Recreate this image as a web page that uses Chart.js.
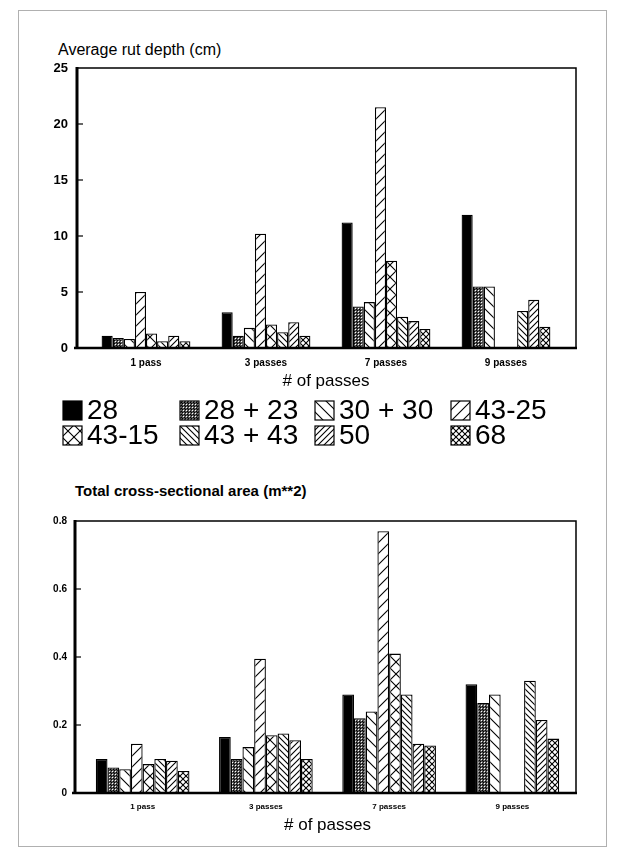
<!DOCTYPE html>
<html>
<head>
<meta charset="utf-8">
<script src="https://cdn.jsdelivr.net/npm/chart.js@4"></script>
<style>
  body { margin: 0; background: #fff; width: 622px; height: 855px; position: relative; overflow: hidden; font-family: "Liberation Sans", Arial, sans-serif; }
  #frame { position: absolute; left: 18px; top: 10px; width: 587px; height: 835px; border: 1px solid #b0b0b0; }
  .title { position: absolute; font-size: 16px; color: #000; white-space: nowrap; }
  canvas.chart { position: absolute; left: 0; }
  .lg { position: absolute; font-size: 28px; line-height: 28px; white-space: nowrap; display: flex; align-items: center; }
  .lg canvas { margin-right: 4px; }
</style>
</head>
<body>
<div id="frame"></div>
<div class="title" style="left:58px; top:41px;">Average rut depth (cm)</div>
<div class="title" style="left:75px; top:482px; font-size:15px; font-weight:bold;">Total cross-sectional area (m**2)</div>
<canvas id="rut" class="chart" style="top:55px;" width="622" height="345"></canvas>
<div id="legend"></div>
<canvas id="area" class="chart" style="top:470px;" width="622" height="375"></canvas>
<script>
// categories
let passes = ["1 pass", "3 passes", "7 passes", "9 passes"];
// series (tire / load configurations)
let series = ["28", "28+23", "30+30", "43-25", "43-15", "43+43", "50", "68"];
let hatches = ["solid", "dots", "back", "fwd", "cross", "back2", "fwd2", "cross2"];

// average rut depth (cm), one array per series, values for 1/3/7/9 passes
let rut28 = [1.1, 3.2, 11.2, 11.9];
let rut28_23 = [0.9, 1.1, 3.7, 5.5];
let rut30_30 = [0.8, 1.8, 4.1, 5.5];
let rut43_25 = [5.0, 10.2, 21.5, 0];
let rut43_15 = [1.3, 2.1, 7.8, 0];
let rut43_43 = [0.6, 1.4, 2.8, 3.3];
let rut50 = [1.1, 2.3, 2.4, 4.3];
let rut68 = [0.6, 1.1, 1.7, 1.9];

// total cross-sectional area (m**2)
let area28 = [0.10, 0.165, 0.29, 0.32];
let area28_23 = [0.075, 0.10, 0.22, 0.265];
let area30_30 = [0.07, 0.135, 0.24, 0.29];
let area43_25 = [0.145, 0.395, 0.77, 0];
let area43_15 = [0.085, 0.17, 0.41, 0];
let area43_43 = [0.10, 0.175, 0.29, 0.33];
let area50 = [0.095, 0.155, 0.145, 0.215];
let area68 = [0.065, 0.10, 0.14, 0.16];

let rutTicks = [0, 5, 10, 15, 20, 25];
let areaTicks = [0, 0.2, 0.4, 0.6, 0.8];

let rutData = [rut28, rut28_23, rut30_30, rut43_25, rut43_15, rut43_43, rut50, rut68];
let areaData = [area28, area28_23, area30_30, area43_25, area43_15, area43_43, area50, area68];

// build a fill pattern for a hatch kind
function makePattern(kind) {
  if (kind === "solid") return "#000";
  let c = document.createElement("canvas");
  let n = { dots: 3, back: 11, fwd: 11, cross: 12, back2: 6, fwd2: 6, cross2: 6 }[kind];
  c.width = n; c.height = n;
  let g = c.getContext("2d");
  g.fillStyle = "#fff";
  g.fillRect(0, 0, n, n);
  g.strokeStyle = "#000";
  g.lineWidth = 1.1;
  if (kind === "dots") {
    g.fillStyle = "#555";
    g.fillRect(0, 0, n, n);
    g.fillStyle = "#fff";
    g.fillRect(1, 1, 1, 1);
    g.fillStyle = "#000";
    g.fillRect(0, 0, 1, 1);
    g.fillRect(2, 2, 1, 1);
  }
  let back = function () {
    g.beginPath();
    g.moveTo(-1, -1); g.lineTo(n + 1, n + 1);
    g.moveTo(n - 1, -1); g.lineTo(n + 1, 1);
    g.moveTo(-1, n - 1); g.lineTo(1, n + 1);
    g.stroke();
  };
  let fwd = function () {
    g.beginPath();
    g.moveTo(-1, n + 1); g.lineTo(n + 1, -1);
    g.moveTo(-1, 1); g.lineTo(1, -1);
    g.moveTo(n - 1, n + 1); g.lineTo(n + 1, n - 1);
    g.stroke();
  };
  if (kind === "back" || kind === "back2") back();
  if (kind === "fwd" || kind === "fwd2") fwd();
  if (kind === "cross" || kind === "cross2") { back(); fwd(); }
  return document.createElement("canvas").getContext("2d").createPattern(c, "repeat");
}

let fills = hatches.map(makePattern);

// legend, 4 columns x 2 rows
let legendCols = [62, 179, 314, 450];
let legendRows = [396, 421];
let legendDiv = document.getElementById("legend");
for (let i = 0; i < series.length; i++) {
  let item = document.createElement("div");
  item.className = "lg";
  item.style.left = legendCols[i % 4] + "px";
  item.style.top = legendRows[Math.floor(i / 4)] + "px";
  let box = document.createElement("canvas");
  box.width = 21; box.height = 21;
  let bx = box.getContext("2d");
  bx.fillStyle = fills[i];
  bx.fillRect(1, 1, 19, 19);
  bx.strokeStyle = "#000";
  bx.lineWidth = 1.2;
  bx.strokeRect(1, 1, 19, 19);
  item.appendChild(box);
  let span = document.createElement("span");
  span.textContent = series[i].replace("+", " + ");
  item.appendChild(span);
  legendDiv.appendChild(item);
}

// box around the plot area (a bit wider than the bar area) and small inward ticks
const framePlugin = {
  id: "frame",
  afterDraw(chart) {
    let ctx = chart.ctx;
    let a = chart.chartArea;
    let ext = chart.options.plugins.frame;
    let L = a.left - ext.left, R = a.right + ext.right;
    let y = chart.scales.y;
    ctx.save();
    ctx.strokeStyle = "#000";
    ctx.lineWidth = 1.5;
    ctx.beginPath();
    ctx.moveTo(L, a.top); ctx.lineTo(R, a.top); ctx.lineTo(R, a.bottom);
    ctx.stroke();
    ctx.lineWidth = 2.5;
    ctx.beginPath();
    ctx.moveTo(L - 3, a.bottom); ctx.lineTo(R + 1, a.bottom);
    ctx.stroke();
    ctx.lineWidth = 3;
    ctx.beginPath();
    ctx.moveTo(L, a.top - 1); ctx.lineTo(L, a.bottom + 1);
    ctx.stroke();
    ctx.lineWidth = 1.2;
    y.ticks.forEach(function (t) {
      let py = y.getPixelForValue(t.value);
      if (py > a.top + 2 && py < a.bottom - 2) {
        ctx.beginPath();
        ctx.moveTo(L, py); ctx.lineTo(L + 6, py);
        ctx.stroke();
      }
    });
    ctx.restore();
  },
};

function makeChart(id, values, ticks, opts) {
  let datasets = series.map(function (name, i) {
    return {
      label: name,
      data: values[i],
      backgroundColor: fills[i],
      borderColor: "#000",
      borderWidth: 1.3,
      borderSkipped: "bottom",
    };
  });
  return new Chart(document.getElementById(id), {
    type: "bar",
    data: { labels: passes, datasets: datasets },
    plugins: [framePlugin],
    options: {
      responsive: false,
      animation: false,
      events: [],
      layout: { padding: { left: 0, right: opts.right, top: opts.top, bottom: 0 } },
      datasets: { bar: { categoryPercentage: opts.cat, barPercentage: 1 } },
      plugins: {
        legend: { display: false },
        tooltip: { enabled: false },
        frame: { left: opts.extL, right: opts.extR },
      },
      scales: {
        x: {
          grid: { display: false },
          border: { display: false },
          ticks: {
            color: "#000",
            padding: opts.xPad,
            font: { family: "Liberation Sans", size: opts.xSize, weight: "bold" },
          },
          title: {
            display: true,
            text: "# of passes",
            color: "#000",
            font: { family: "Liberation Sans", size: 17 },
            padding: { top: 0, bottom: opts.titlePad },
          },
          afterFit(scale) { scale.height = opts.xHeight; },
        },
        y: {
          min: ticks[0],
          max: ticks[ticks.length - 1],
          grid: { display: false, drawTicks: false },
          border: { display: false },
          afterBuildTicks(scale) { scale.ticks = ticks.map(function (v) { return { value: v }; }); },
          ticks: {
            color: "#000",
            padding: opts.yPad,
            font: { family: "Liberation Sans", size: opts.ySize, weight: "bold" },
          },
          afterFit(scale) {
            scale.width = opts.left;
            scale.paddingTop = 7;
            scale.paddingBottom = 7;
          },
        },
      },
    },
  });
}

makeChart("rut", rutData, rutTicks, {
  top: 13, left: 86, right: 56, extL: 9, extR: 10, cat: 0.74,
  xHeight: 52, xPad: 1, xSize: 10, titlePad: 8, yPad: 18, ySize: 13,
});
makeChart("area", areaData, areaTicks, {
  top: 51, left: 81, right: 48, extL: 6, extR: 2, cat: 0.76,
  xHeight: 52, xPad: 1, xSize: 8, titlePad: 9, yPad: 14, ySize: 10,
});
</script>
</body>
</html>
